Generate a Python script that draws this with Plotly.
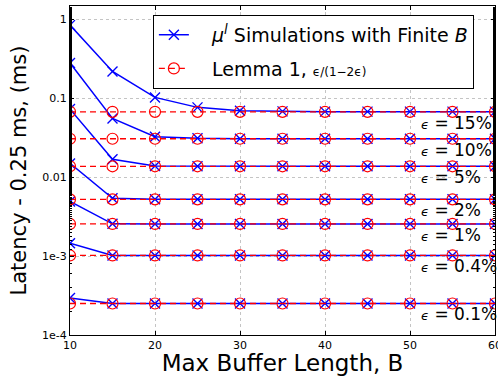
import math
import plotly.graph_objects as go

# ---- data ----
buffer_len = [10, 15, 20, 25, 30, 35, 40, 45, 50, 55, 60]
eps_labels = ["15%", "10%", "5%", "2%", "1%", "0.4%", "0.1%"]

sim_15 = [0.85, 0.22, 0.103, 0.077, 0.0697, 0.0685, 0.068, 0.068, 0.068, 0.068, 0.068]
sim_10 = [0.282, 0.0558, 0.0327, 0.0312, 0.0309, 0.0308, 0.0308, 0.0308, 0.0308, 0.0308, 0.0308]
sim_5 = [0.0732, 0.0169, 0.0139, 0.0138, 0.0138, 0.0138, 0.0138, 0.0138, 0.0138, 0.0138, 0.0138]
sim_2 = [0.0150, 0.00542, 0.00528, 0.00527, 0.00527, 0.00527, 0.00527, 0.00527, 0.00527, 0.00527, 0.00527]
sim_1 = [0.00494, 0.00257, 0.00256, 0.00256, 0.00256, 0.00256, 0.00256, 0.00256, 0.00256, 0.00256, 0.00256]
sim_04 = [0.00146, 0.00102, 0.00102, 0.00102, 0.00102, 0.00102, 0.00102, 0.00102, 0.00102, 0.00102, 0.00102]
sim_01 = [0.000294, 0.000251, 0.000251, 0.000251, 0.000251, 0.000251, 0.000251, 0.000251, 0.000251, 0.000251, 0.000251]
sim_series = [sim_15, sim_10, sim_5, sim_2, sim_1, sim_04, sim_01]

lemma_values = [0.0676, 0.0308, 0.01378, 0.00525, 0.00256, 0.00102, 0.000251]

y_tickvals = [1, 0.1, 0.01, 0.001, 0.0001]
y_ticktext = ["1", "0.1", "0.01", "1e-3", "1e-4"]
x_tickvals = [10, 20, 30, 40, 50, 60]

FONT = "DejaVu Sans"
BLUE = "#0000ff"
RED = "#ff0000"

fig = go.Figure()

for i, ys in enumerate(sim_series):
    fig.add_trace(go.Scatter(
        x=buffer_len, y=ys, mode="lines+markers",
        line=dict(color=BLUE, width=1.5),
        marker=dict(symbol="x-thin-open", size=10, line=dict(color=BLUE, width=1.4)),
        name="&nbsp;&nbsp;&nbsp;<i>μ<sup>l</sup></i> Simulations with Finite <i>B</i>",
        legendgroup="sim", showlegend=(i == 0),
    ))

for i, v in enumerate(lemma_values):
    fig.add_trace(go.Scatter(
        x=buffer_len, y=[v] * len(buffer_len), mode="lines+markers",
        line=dict(color=RED, width=1.3, dash="6px,4px"),
        marker=dict(symbol="circle-open", size=11, line=dict(color=RED, width=1.2)),
        name="&nbsp;&nbsp;&nbsp;Lemma 1, <span style='font-size:12px'>ϵ/(1−2ϵ)</span>",
        legendgroup="lemma", showlegend=(i == 0),
    ))

for lab, v in zip(eps_labels, lemma_values):
    fig.add_annotation(
        x=51, y=math.log10(v), xref="x", yref="y",
        text="<span style='font-size:13px'><i>ϵ</i></span> = " + lab,
        showarrow=False, xanchor="left", yanchor="middle", yshift=-11,
        font=dict(family=FONT, size=17, color="black"),
    )

fig.update_layout(
    width=498, height=376,
    margin=dict(l=70, r=3, t=6, b=41, autoexpand=False),
    paper_bgcolor="white", plot_bgcolor="white",
    font=dict(family=FONT, color="black"),
    legend=dict(
        x=0.195, y=0.973, xanchor="left", yanchor="top",
        bgcolor="white", bordercolor="black", borderwidth=1,
        font=dict(family=FONT, size=19),
        tracegroupgap=6,
    ),
)

fig.update_xaxes(
    range=[10, 60], tickvals=x_tickvals, ticklabeloverflow="allow", automargin=False,
    ticks="inside", ticklen=4, tickcolor="black",
    showline=True, linecolor="black", linewidth=1, mirror="ticks",
    showgrid=True, gridcolor="#c4c4c4", griddash="dot", gridwidth=1,
    tickfont=dict(family=FONT, size=11),
    title=dict(text="Max Buffer Length, B", font=dict(family=FONT, size=23), standoff=2),
    zeroline=False,
)
fig.update_yaxes(
    type="log", range=[-4, 0.172], automargin=False,
    tickvals=y_tickvals, ticktext=y_ticktext,
    ticks="inside", ticklen=4, tickcolor="black",
    minor=dict(ticks="inside", ticklen=2, tickcolor="black", showgrid=False),
    showline=True, linecolor="black", linewidth=1, mirror="ticks",
    showgrid=True, gridcolor="#c4c4c4", griddash="dot", gridwidth=1,
    tickfont=dict(family=FONT, size=11),
    title=dict(text="Latency - 0.25 ms, (ms)", font=dict(family=FONT, size=21), standoff=9),
    zeroline=False,
)

fig.write_html("out.html")
